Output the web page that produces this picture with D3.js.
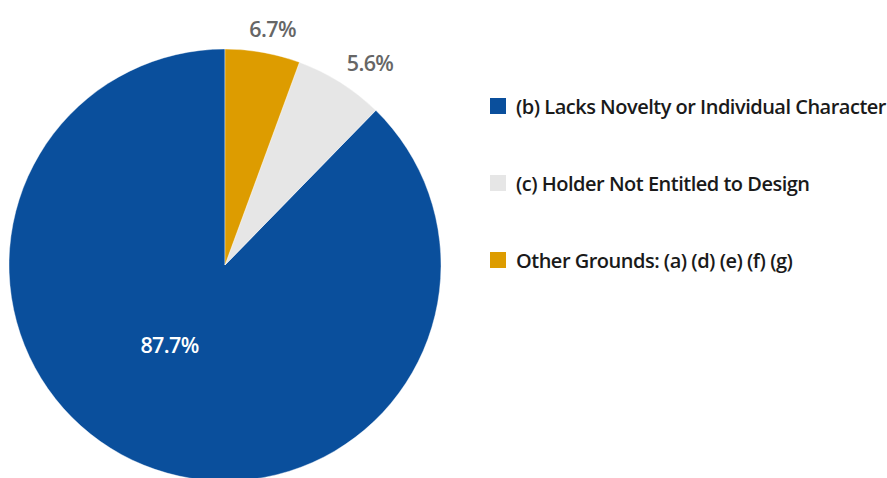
<!DOCTYPE html>
<html>
<head>
<meta charset="utf-8">
<script src="https://cdn.jsdelivr.net/npm/d3@7/dist/d3.min.js"></script>
<style>
  html, body { margin: 0; padding: 0; background: #fff; }
  svg { display: block; }
  text { font-family: "Open Sans", "Noto Sans", sans-serif; }
</style>
</head>
<body>
<svg id="chart" width="887" height="478"></svg>
<script>
// ---- data ----
const categories = [
  "(b) Lacks Novelty or Individual Character",
  "(c) Holder Not Entitled to Design",
  "Other Grounds: (a) (d) (e) (f) (g)"
];
const values = [87.7, 6.7, 5.6];
// labels as printed next to each slice in the reference
const sliceLabels = ["87.7%", "5.6%", "6.7%"];
const colors = ["#0a4f9c", "#e6e6e6", "#dd9c00"];

// ---- layout ----
const W = 887, H = 478;
const cx = 225, cy = 265, R = 216;
const svg = d3.select("#chart");

const pie = d3.pie().sort(null).value(d => d).startAngle(0).endAngle(-2 * Math.PI);
const arcs = pie(values);
const arc = d3.arc().innerRadius(0).outerRadius(R);

const g = svg.append("g").attr("transform", `translate(${cx},${cy})`);
g.selectAll("path.slice").data(arcs).enter().append("path")
  .attr("class", "slice")
  .attr("d", arc)
  .attr("fill", (d, i) => colors[i])
  .attr("stroke", "#fff")
  .attr("stroke-width", 0.4);

// labels
function mid(d) { return (d.startAngle + d.endAngle) / 2; }
g.selectAll("text.lbl").data(arcs).enter().append("text")
  .attr("class", "lbl")
  .attr("text-anchor", "middle")
  .attr("dominant-baseline", "central")
  .attr("font-size", 21.5)
  .attr("font-weight", 600)
  .attr("letter-spacing", -0.6)
  .attr("fill", (d, i) => i === 0 ? "#ffffff" : "#666666")
  .attr("x", (d, i) => {
    const a = mid(d);
    if (i === 0) return 86 * Math.sin(a) - 23;
    return 272 * Math.sin(a);
  })
  .attr("y", (d, i) => {
    const a = mid(d);
    if (i === 0) return -86 * Math.cos(a);
    return -242 * Math.cos(a) + 2;
  })
  .text((d, i) => sliceLabels[i]);

// legend
const legY = d3.scalePoint().domain(categories).range([106, 260]);
const leg = svg.append("g");
const items = leg.selectAll("g").data(categories).enter().append("g")
  .attr("transform", d => `translate(490,${legY(d)})`);
items.append("rect")
  .attr("x", 0).attr("y", -8).attr("width", 16).attr("height", 16)
  .attr("fill", (d, i) => colors[i]);
items.append("text")
  .attr("x", 26).attr("y", 0)
  .attr("dominant-baseline", "central")
  .attr("font-size", 20)
  .attr("font-weight", 600)
  .attr("letter-spacing", -0.5)
  .attr("fill", "#1a1a1a")
  .text(d => d);
</script>
</body>
</html>
